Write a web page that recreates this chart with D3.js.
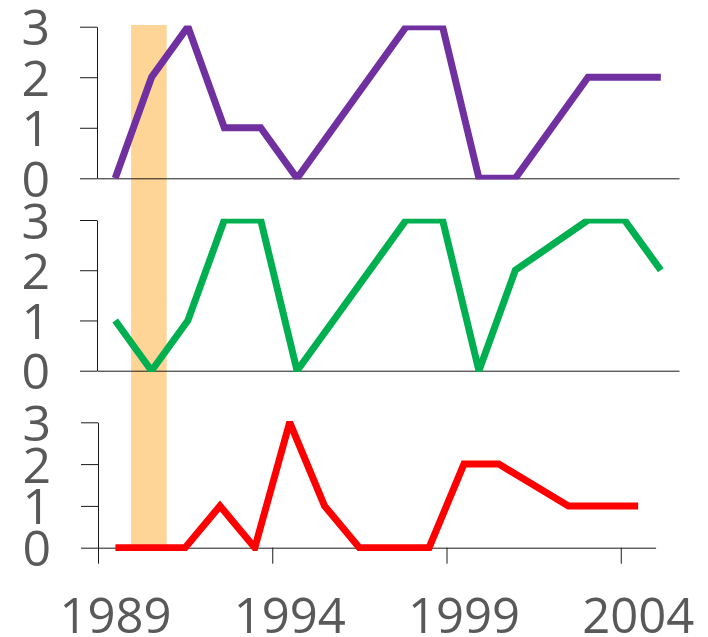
<!DOCTYPE html>
<html><head><meta charset="utf-8">
<script src="https://cdn.jsdelivr.net/npm/d3@7/dist/d3.min.js"></script>
<style>body{margin:0;background:#fff}svg{display:block}</style>
</head><body><svg id="c" width="708" height="637"></svg>
<script>
// ---- data ----
const years = [1989,1990,1991,1992,1993,1994,1995,1996,1997,1998,1999,2000,2001,2002,2003,2004];
const purpleValues = [0,2,3,1,1,0,1,2,3,3,0,0,1,2,2,2];
const greenValues  = [1,0,1,3,3,0,1,2,3,3,0,2,2.5,3,3,2];
const redValues    = [0,0,0,1,0,3,1,0,0,0,2,2,1.5,1,1,1];
const yTickValues = [0,1,2,3];
const xTickLabels = [1989,1994,1999,2004];
const highlightRange = [1989.95, 1990.97];

// ---- layout ----
const svg = d3.select("#c");
const FONT = "'Open Sans', 'Noto Sans', sans-serif";
const TEXT = "#595959";
const panels = [
  {values: purpleValues, color: "#7030A0", top: 26.7, bottom: 178.3, x0: 97, x1: 679, clipBelow: 1.3},
  {values: greenValues,  color: "#00B050", top: 220,  bottom: 370.7, x0: 97, x1: 679, clipBelow: 1.3},
  {values: redValues,    color: "#FF0000", top: 422.3, bottom: 547.7, x0: 98, x1: 655.6, clipBelow: 3.2}
];

const last = panels[2];
const xLinBottom = d3.scaleLinear().domain([years[0], years[years.length-1]+1]).range([last.x0, last.x1]);

// highlight band
svg.append("rect")
  .attr("x", xLinBottom(highlightRange[0]))
  .attr("width", xLinBottom(highlightRange[1]) - xLinBottom(highlightRange[0]))
  .attr("y", 25).attr("height", last.bottom - 25)
  .attr("fill", "#FFD597");

const defs = svg.append("defs");

panels.forEach((p, i) => {
  const x = d3.scaleBand().domain(years).range([p.x0, p.x1]).padding(0);
  const y = d3.scaleLinear().domain([0, 3]).range([p.bottom, p.top]);
  const g = svg.append("g");

  // y axis
  const ya = g.append("g").attr("transform", `translate(${p.x0},0)`)
    .call(d3.axisLeft(y).tickValues(yTickValues).tickFormat(d3.format("d"))
      .tickSize(17).tickSizeOuter(0).tickPadding(30));
  ya.selectAll("path,line").attr("stroke", "#1a1a1a").attr("stroke-width", 1);
  ya.selectAll("text").attr("font-family", FONT).attr("font-size", 50).attr("fill", TEXT).attr("dy", "0.36em");

  // baseline / x axis
  const xa = g.append("g").attr("transform", `translate(0,${y(0)})`);
  if (i < 2) {
    xa.call(d3.axisBottom(x).tickValues([]).tickSizeOuter(0));
  } else {
    xa.call(d3.axisBottom(xLinBottom).tickValues(xTickLabels).tickSize(16).tickSizeOuter(0).tickFormat(""));
    const la = g.append("g").attr("transform", `translate(0,${y(0)})`)
      .call(d3.axisBottom(x).tickValues(xTickLabels).tickFormat(d3.format("d")).tickSize(0));
    la.select(".domain").remove();
    la.selectAll("text").attr("font-family", FONT).attr("font-size", 49).attr("fill", TEXT)
      .attr("y", 85).attr("dy", 0);
  }
  xa.selectAll("path,line").attr("stroke", "#1a1a1a").attr("stroke-width", 1);

  // clip to plot area
  const cid = "clip" + i;
  defs.append("clipPath").attr("id", cid).append("rect")
    .attr("x", p.x0 - 5).attr("y", p.top - 1.2)
    .attr("width", p.x1 - p.x0 + 20).attr("height", p.bottom - p.top + 1.2 + p.clipBelow);

  const line = d3.line().x((d, j) => x(years[j]) + x.bandwidth() / 2).y(d => y(d));
  g.append("path").datum(p.values)
    .attr("clip-path", `url(#${cid})`)
    .attr("d", line)
    .attr("fill", "none").attr("stroke", p.color).attr("stroke-width", 7)
    .attr("stroke-linecap", "butt").attr("stroke-linejoin", "miter");
});
</script></body></html>
